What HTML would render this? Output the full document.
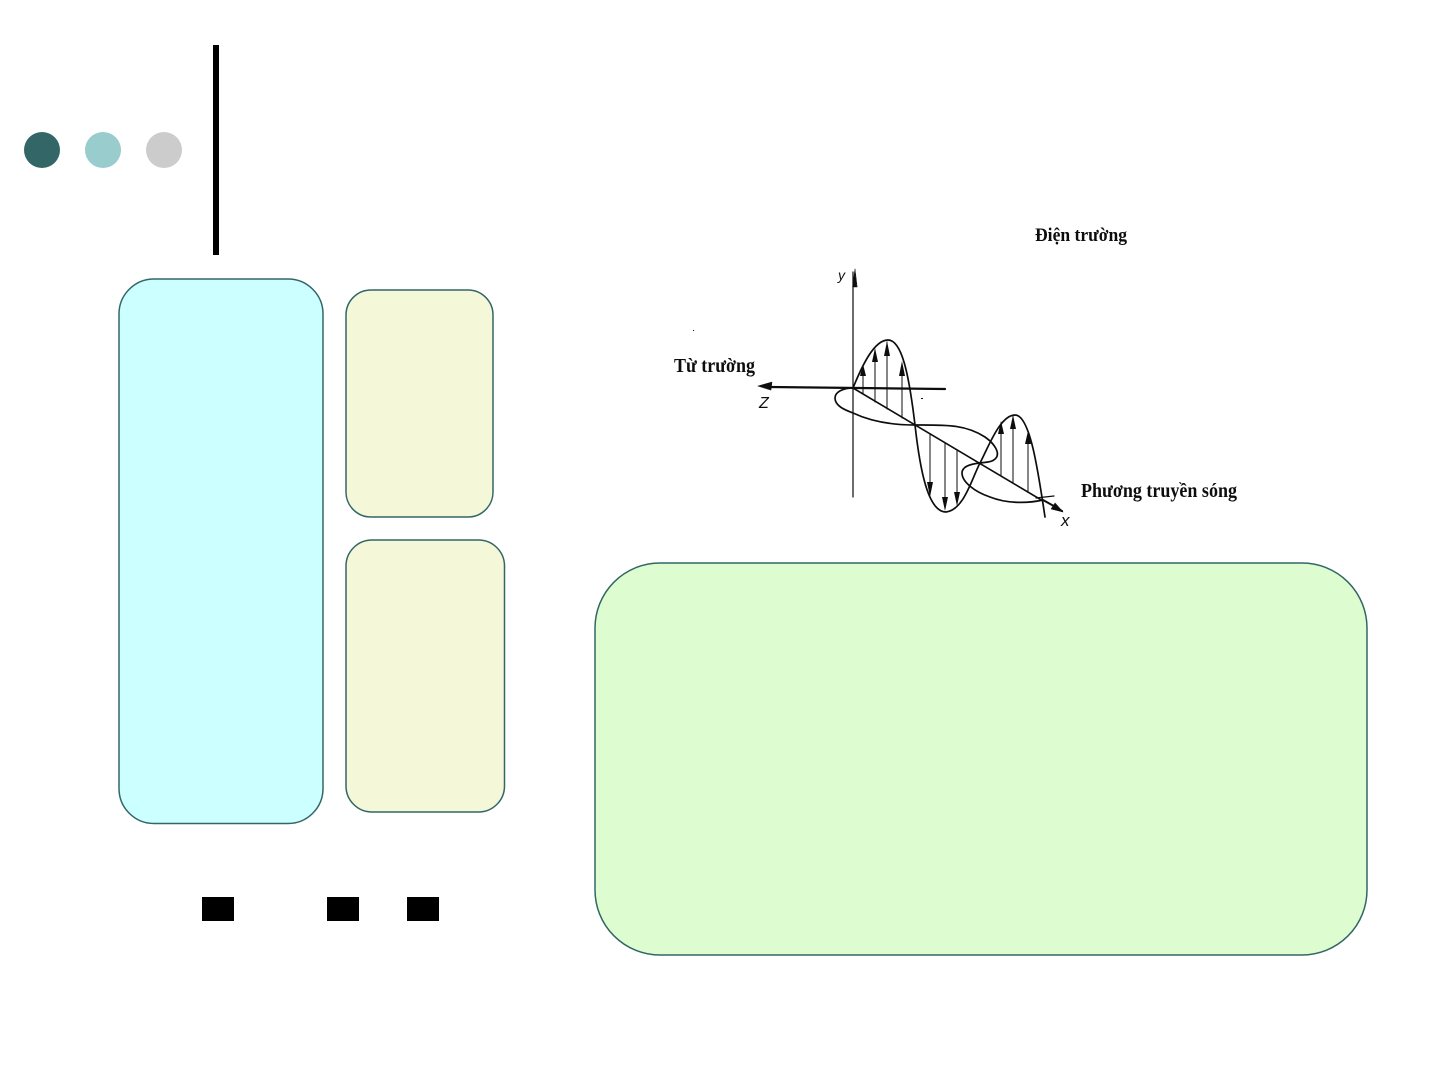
<!DOCTYPE html>
<html>
<head>
<meta charset="utf-8">
<style>
html,body{margin:0;padding:0;background:#fff;width:1441px;height:1081px;overflow:hidden}
svg{display:block}
text{font-family:"Liberation Serif",serif;fill:#111;font-weight:bold}
text.l{font-family:"Liberation Sans",sans-serif;font-weight:normal;font-style:italic}
</style>
</head>
<body>
<svg width="1441" height="1081" viewBox="0 0 1441 1081" xmlns="http://www.w3.org/2000/svg">
<defs>
<filter id="b" x="-5%" y="-5%" width="110%" height="110%"><feGaussianBlur stdDeviation="0.35"/></filter>
</defs>
<rect width="1441" height="1081" fill="#fff"/>
<circle cx="42" cy="150" r="18" fill="#336666"/>
<circle cx="103" cy="150" r="18" fill="#99CCCC"/>
<circle cx="164" cy="150" r="18" fill="#CCCCCC"/>
<rect x="213" y="45" width="6" height="210" fill="#000"/>

<rect x="119" y="279" width="204" height="544.500" rx="35" fill="#CCFFFF" stroke="#336666" stroke-width="1.500"/>
<rect x="346" y="290" width="147" height="227" rx="25" fill="#F4F7D8" stroke="#336666" stroke-width="1.500"/>
<rect x="346" y="540" width="158.500" height="272" rx="26" fill="#F4F7D8" stroke="#336666" stroke-width="1.500"/>
<rect x="595" y="563" width="772" height="392" rx="65" fill="#DDFDD0" stroke="#336666" stroke-width="1.500"/>

<rect x="202" y="897" width="32" height="24" fill="#000"/>
<rect x="327" y="897" width="32" height="24" fill="#000"/>
<rect x="407" y="897" width="32" height="24" fill="#000"/>

<g filter="url(#b)">
<g fill="none" stroke="#111" stroke-linecap="round" stroke-linejoin="round">
<!-- axes -->
<path d="M853 497 L853 272" stroke-width="1.200"/>
<path d="M855 269 L852.500 287 L857 287 Z" fill="#111" stroke-width="0.500"/>
<path d="M945 389 L770 387" stroke-width="2.200"/>
<path d="M758 386 L772 382 L771 390 Z" fill="#111" stroke-width="0.500"/>
<path d="M853 388 L1043 501" stroke-width="1.600"/>
<path d="M1043 500 L1052 505 L1062 511" stroke-width="2"/>
<path d="M1063 512 L1051 509 L1055 503 Z" fill="#111" stroke-width="0.500"/>
<path d="M1036 498 L1054 496" stroke-width="1.200"/>
<!-- electric wave -->
<path d="M853 388 C862 366 874 340 888 340 C902 340 909 375 915 425 C920 470 928 512 946 512 C964 510 972 478 980 463 C988 448 1000 415 1015 415 C1030 415 1038 470 1045 517" stroke-width="1.700"/>
<!-- magnetic wave -->
<path d="M853 388 C843 388 835 392 835 398 C835 406 845 410 853 413 C870 421 890 425 915 425 C945 425 965 424 985 437 C995 444 1000 453 996 458 C992 463 985 462 980 463 C970 464 962 467 962 473 C962 482 975 492 990 497 C1005 503 1025 504 1043 500" stroke-width="1.700"/>
<!-- up arrows -->
<path d="M863 394 L863 368 M875 402 L875 350 M887 409 L887 342 M902 418 L902 364" stroke-width="1"/>
<!-- down arrows -->
<path d="M930 434 L930 492 M945 443 L945 507 M957 450 L957 503" stroke-width="1"/>
<!-- second up arrows -->
<path d="M1001 476 L1001 423 M1013 483 L1013 415 M1028 492 L1028 434" stroke-width="1"/>
</g>
<g fill="#111">
<path d="M863 364 L860 376 L866 376 Z"/>
<path d="M875 348 L872 362 L878 362 Z"/>
<path d="M887 341 L884 356 L890 356 Z"/>
<path d="M902 361 L899 376 L905 376 Z"/>
<path d="M930 497 L927 482 L933 482 Z"/>
<path d="M945 511 L942 497 L948 497 Z"/>
<path d="M957 506 L954 492 L960 492 Z"/>
<path d="M1001 421 L998 434 L1004 434 Z"/>
<path d="M1013 415 L1010 429 L1016 429 Z"/>
<path d="M1028 431 L1025 444 L1031 444 Z"/>
<rect x="693" y="330" width="1" height="1"/>
<rect x="921" y="398" width="2" height="1"/>
</g>
<text x="1035" y="241" font-size="19" textLength="92" lengthAdjust="spacingAndGlyphs">Điện trường</text>
<text x="674" y="372" font-size="19.500" textLength="81" lengthAdjust="spacingAndGlyphs">Từ trường</text>
<text x="1081" y="497" font-size="19.500" textLength="156" lengthAdjust="spacingAndGlyphs">Phương truyền sóng</text>
<text class="l" x="838" y="280" font-size="14">y</text>
<text class="l" x="759" y="408" font-size="16">Z</text>
<text class="l" x="1061" y="526" font-size="17">x</text>
</g>
</svg>
</body>
</html>
